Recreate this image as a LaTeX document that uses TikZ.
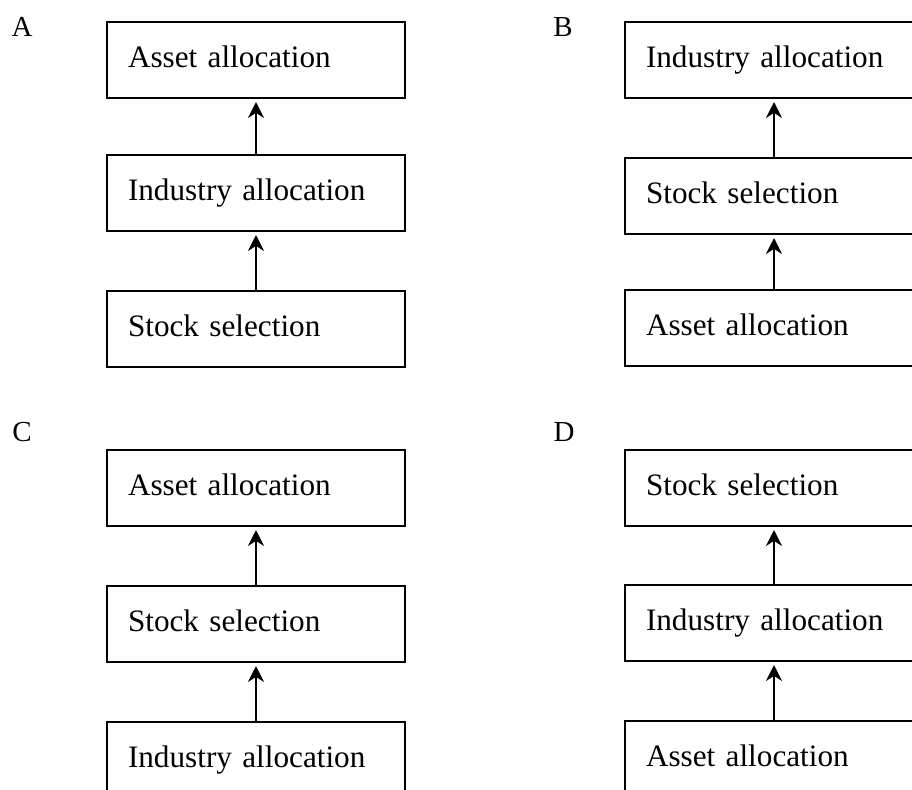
\documentclass[tikz,border=0pt]{standalone}
\usepackage{fontspec}
\setmainfont{Liberation Serif}
\usetikzlibrary{arrows.meta}

\begin{document}
\begin{tikzpicture}[x=0.5pt, y=-0.5pt,
        stagebox/.style={draw, rectangle, line width=1pt, inner xsep=10.5pt, text width=128pt, align=left, minimum height=38pt, text height=0.97em, text depth=0.2em, font=\fontsize{15.6}{19}\selectfont},
        panel/.style={font=\fontsize{14.5}{17}\selectfont},
        flow/.style={-{Stealth[length=8pt, width=8pt, inset=2.6pt]}, line width=0.8pt, shorten >=1.5pt}]
        \useasboundingbox (0,0) rectangle (912,789);
        \clip (0,0) rectangle (912,789);

        % Panel A
        \node[panel] (labA) at (22, 27) {A};
        \node[stagebox] (a1) at (256, 60) {Asset allocation};
        \node[stagebox] (a2) at (256, 193) {Industry allocation};
        \node[stagebox] (a3) at (256, 328.5) {Stock selection};

        % Panel B
        \node[panel] (labB) at (563, 27) {B};
        \node[stagebox] (b1) at (774, 60) {Industry allocation};
        \node[stagebox] (b2) at (774, 196) {Stock selection};
        \node[stagebox] (b3) at (774, 328) {Asset allocation};

        % Panel C
        \node[panel] (labC) at (22, 432) {C};
        \node[stagebox] (c1) at (256, 488) {Asset allocation};
        \node[stagebox] (c2) at (256, 624) {Stock selection};
        \node[stagebox] (c3) at (256, 760) {Industry allocation};

        % Panel D
        \node[panel] (labD) at (564, 432) {D};
        \node[stagebox] (d1) at (774, 488) {Stock selection};
        \node[stagebox] (d2) at (774, 623) {Industry allocation};
        \node[stagebox] (d3) at (774, 759) {Asset allocation};

        % Connections
        \draw[flow] (a3) -- (a2);
        \draw[flow] (a2) -- (a1);
        \draw[flow] (b3) -- (b2);
        \draw[flow] (b2) -- (b1);
        \draw[flow] (c3) -- (c2);
        \draw[flow] (c2) -- (c1);
        \draw[flow] (d3) -- (d2);
        \draw[flow] (d2) -- (d1);
    \end{tikzpicture}
\end{document}
